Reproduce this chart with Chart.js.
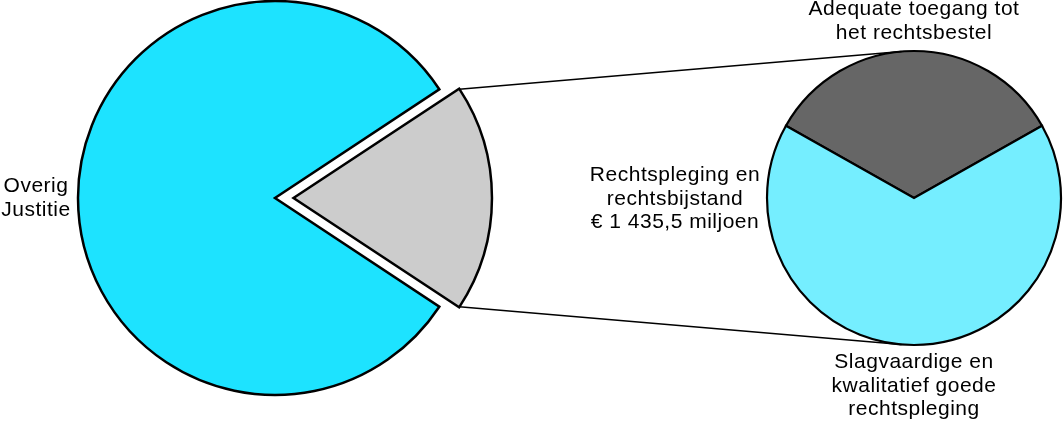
<!DOCTYPE html>
<html>
<head>
<meta charset="utf-8">
<script src="https://cdn.jsdelivr.net/npm/chart.js@4/dist/chart.umd.min.js"></script>
<style>
  html, body { margin: 0; padding: 0; background: #ffffff; }
  #wrap { position: relative; width: 1064px; height: 421px; }
  #wrap canvas { position: absolute; left: 0; top: 0; }
</style>
</head>
<body>
<div id="wrap">
  <canvas id="main" width="1064" height="421"></canvas>
  <canvas id="detail" width="1064" height="421"></canvas>
</div>
<script>
// ---- data (millions of euros) ----
const mainLabels = ['Rechtspleging en rechtsbijstand', 'Overig Justitie'];
const mainValues = [1435.5, 6280];
const mainColors = ['#cccccc', '#1de3ff'];

const detailLabels = ['Adequate toegang tot het rechtsbestel', 'Slagvaardige en kwalitatief goede rechtspleging'];
const detailValues = [483, 952.5];
const detailColors = ['#666666', '#75eeff'];

const labelMain = ['Overig', 'Justitie'];
const labelDetailTitle = ['Rechtspleging en', 'rechtsbijstand', '\u20AC 1 435,5 miljoen'];
const labelTop = ['Adequate toegang tot', 'het rechtsbestel'];
const labelBottom = ['Slagvaardige en', 'kwalitatief goede', 'rechtspleging'];

// ---- derived rotations so the exploded slice points right and the dark slice sits on top ----
const sum = a => a.reduce((s, v) => s + v, 0);
const greyDeg = 360 * mainValues[0] / sum(mainValues);
const darkDeg = 360 * detailValues[0] / sum(detailValues);

const EXPLODE = 74;

const mainChart = new Chart(document.getElementById('main'), {
  type: 'pie',
  data: {
    labels: mainLabels,
    datasets: [{
      data: mainValues,
      backgroundColor: mainColors,
      borderColor: '#000000',
      borderWidth: 2.5,
      borderJoinStyle: 'miter',
      offset: [EXPLODE, 0]
    }]
  },
  options: {
    responsive: false,
    animation: false,
    events: [],
    rotation: 90 - greyDeg / 2,
    radius: 197,
    layout: { padding: { left: 0, right: 514, top: 0, bottom: 25 } },
    plugins: { legend: { display: false }, tooltip: { enabled: false } }
  }
});

function arcCorners(arc) {
  const fix = 1 - Math.sin(Math.min(Math.PI, arc.circumference || (arc.endAngle - arc.startAngle)));
  const off = (arc.options.offset || 0) / 4;
  const t = off + off * fix;
  const mid = (arc.startAngle + arc.endAngle) / 2;
  const cx = arc.x + Math.cos(mid) * t;
  const cy = arc.y + Math.sin(mid) * t;
  const R = arc.outerRadius;
  return [
    { x: cx + R * Math.cos(arc.startAngle), y: cy + R * Math.sin(arc.startAngle) },
    { x: cx + R * Math.cos(arc.endAngle), y: cy + R * Math.sin(arc.endAngle) }
  ];
}

function tangentPoint(p, c, r, sign) {
  const dx = p.x - c.x, dy = p.y - c.y;
  const d = Math.hypot(dx, dy);
  const base = Math.atan2(dy, dx);
  const a = base + sign * Math.acos(r / d);
  return { x: c.x + r * Math.cos(a), y: c.y + r * Math.sin(a) };
}

const overlay = {
  id: 'overlay',
  afterDraw(chart) {
    const ctx = chart.ctx;
    const grey = mainChart.getDatasetMeta(0).data[0];
    const det = chart.getDatasetMeta(0).data[0];
    const c = { x: det.x, y: det.y };
    const r = det.outerRadius;
    const [pTop, pBot] = arcCorners(grey);

    ctx.save();
    ctx.strokeStyle = '#000';
    ctx.lineWidth = 1.4;
    const tTop = tangentPoint(pTop, c, r, 1);
    const tBot = tangentPoint(pBot, c, r, -1);
    ctx.beginPath();
    ctx.moveTo(pTop.x, pTop.y); ctx.lineTo(tTop.x, tTop.y);
    ctx.moveTo(pBot.x, pBot.y); ctx.lineTo(tBot.x, tBot.y);
    ctx.stroke();

    ctx.fillStyle = '#000';
    ctx.font = '21px "Liberation Sans", Arial, sans-serif';
    ctx.letterSpacing = '0.5px';
    ctx.textAlign = 'center';
    ctx.textBaseline = 'alphabetic';
    const lh = 23.5;
    const lines = (arr, x, y0) => arr.forEach((s, i) => ctx.fillText(s, x, y0 + i * lh));

    lines(labelTop, c.x, 15);
    lines(labelDetailTitle, 675, 181);
    lines(labelBottom, c.x, 368);
    lines(labelMain, 36, 192);
    ctx.restore();
  }
};

const detailChart = new Chart(document.getElementById('detail'), {
  type: 'pie',
  data: {
    labels: detailLabels,
    datasets: [{
      data: detailValues,
      backgroundColor: detailColors,
      borderColor: '#000000',
      borderWidth: 2.2,
      borderJoinStyle: 'miter'
    }]
  },
  options: {
    responsive: false,
    animation: false,
    events: [],
    rotation: -darkDeg / 2,
    radius: 147,
    layout: { padding: { left: 764, right: 0, top: 0, bottom: 25 } },
    plugins: { legend: { display: false }, tooltip: { enabled: false } }
  },
  plugins: [overlay]
});
</script>
</body>
</html>
